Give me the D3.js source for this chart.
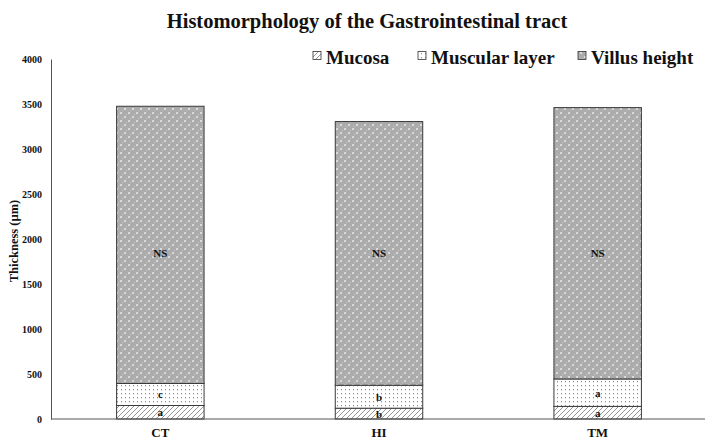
<!DOCTYPE html>
<html>
<head>
<meta charset="utf-8">
<script src="https://cdn.jsdelivr.net/npm/d3@7"></script>
<style>
  body { margin: 0; background: #fff; }
  svg text { font-family: "Liberation Serif", "DejaVu Serif", serif !important; font-weight: bold; fill: #111; }
</style>
</head>
<body>
<div id="chart"></div>
<script>
const groups = ["CT", "HI", "TM"];
const seriesNames = ["Mucosa", "Muscular layer", "Villus height"];
const mucosa = [150, 120, 140];
const muscular = [245, 255, 305];
const villus = [3080, 2930, 3015];
const mucosaLetters = ["a", "b", "a"];
const muscularLetters = ["c", "b", "a"];
const villusLetters = ["NS", "NS", "NS"];
const yTicks = [0, 500, 1000, 1500, 2000, 2500, 3000, 3500, 4000];
const nsLabelAt = 1850;

const w = 709, h = 441;
const padL = 51, padR = 707, padT = 59, padB = 419;

const svg = d3.select("#chart").append("svg")
  .attr("width", w).attr("height", h);

const defs = svg.append("defs");
// diagonal hatch
const p1 = defs.append("pattern").attr("id", "pMuc")
  .attr("patternUnits", "userSpaceOnUse").attr("width", 5).attr("height", 5);
p1.append("rect").attr("width", 5).attr("height", 5).attr("fill", "#fff");
p1.append("path").attr("d", "M0,5 L5,0 M-1,1 L1,-1 M4,6 L6,4")
  .attr("stroke", "#8a8a8a").attr("stroke-width", 0.9);
// dotted
const p2 = defs.append("pattern").attr("id", "pMus")
  .attr("patternUnits", "userSpaceOnUse").attr("width", 4).attr("height", 4);
p2.append("rect").attr("width", 4).attr("height", 4).attr("fill", "#fff");
p2.append("rect").attr("x", 1).attr("y", 1).attr("width", 1).attr("height", 1.3).attr("fill", "#8c8c8c");
// villus grey with light dots
const p3 = defs.append("pattern").attr("id", "pVil")
  .attr("patternUnits", "userSpaceOnUse").attr("width", 8).attr("height", 8);
p3.append("rect").attr("width", 8).attr("height", 8).attr("fill", "#acacac");
p3.append("rect").attr("x", 0).attr("y", 0).attr("width", 2).attr("height", 2).attr("fill", "#dadada");
p3.append("rect").attr("x", 4).attr("y", 4).attr("width", 2).attr("height", 2).attr("fill", "#dadada");
p3.append("rect").attr("x", 2).attr("y", 6).attr("width", 1).attr("height", 1).attr("fill", "#c0c0c0");
p3.append("rect").attr("x", 6).attr("y", 2).attr("width", 1).attr("height", 1).attr("fill", "#c0c0c0");
const fills = ["url(#pMuc)", "url(#pMus)", "url(#pVil)"];

const x = d3.scaleBand().domain(groups).range([padL, padR]).paddingInner(0.6).paddingOuter(0.3);
const y = d3.scaleLinear().domain([0, 4000]).range([padB, padT]);

const table = groups.map((g, i) => ({ group: g, m0: mucosa[i], m1: muscular[i], m2: villus[i] }));
const stack = d3.stack().keys(["m0", "m1", "m2"])(table);
const letters = [mucosaLetters, muscularLetters, villusLetters];

stack.forEach((layer, k) => {
  const g = svg.append("g");
  g.selectAll("rect").data(layer).enter().append("rect")
    .attr("x", d => x(d.data.group))
    .attr("y", d => y(d[1]))
    .attr("width", x.bandwidth())
    .attr("height", d => y(d[0]) - y(d[1]))
    .attr("fill", fills[k])
    .attr("stroke", "#3a3a3a")
    .attr("stroke-width", 1);
  g.selectAll("text").data(layer).enter().append("text")
    .attr("x", d => x(d.data.group) + x.bandwidth() / 2)
    .attr("y", d => (k == 2 ? y(nsLabelAt) : (y(d[0]) + y(d[1])) / 2) + 4)
    .attr("text-anchor", "middle")
    .style("font-size", "11px")
    .text((d, i) => letters[k][i]);
});

// axes
const yAxis = d3.axisLeft(y).tickValues(yTicks).tickFormat(d3.format("d")).tickSize(0).tickPadding(9);
const ya = svg.append("g").attr("transform", "translate(" + padL + ",0)").call(yAxis);
ya.select(".domain").attr("stroke", "#555");
ya.selectAll("text").style("font-size", "10px");

const xAxis = d3.axisBottom(x).tickSize(0).tickPadding(9);
const xa = svg.append("g").attr("transform", "translate(0," + padB + ")").call(xAxis);
xa.select(".domain").attr("stroke", "#555").attr("d", "M" + padL + ",0H" + (w - 4));
xa.selectAll("text").style("font-size", "13px");

svg.append("text")
  .attr("x", 367).attr("y", 28)
  .attr("text-anchor", "middle")
  .style("font-size", "20.5px")
  .text("Histomorphology of the Gastrointestinal tract");

svg.append("text")
  .attr("transform", "rotate(-90)")
  .attr("x", -241).attr("y", 18)
  .attr("text-anchor", "middle")
  .style("font-size", "12.5px")
  .text("Thickness (µm)");

// legend
const legX = [313, 418, 578];
const leg = svg.append("g");
seriesNames.forEach((s, i) => {
  leg.append("rect").attr("x", legX[i]).attr("y", 51.5).attr("width", 8).attr("height", 8)
    .attr("fill", fills[i]).attr("stroke", "#333").attr("stroke-width", 0.8);
  leg.append("text").attr("x", legX[i] + 13).attr("y", 64)
    .style("font-size", "19px").text(s);
});
</script>
</body>
</html>
